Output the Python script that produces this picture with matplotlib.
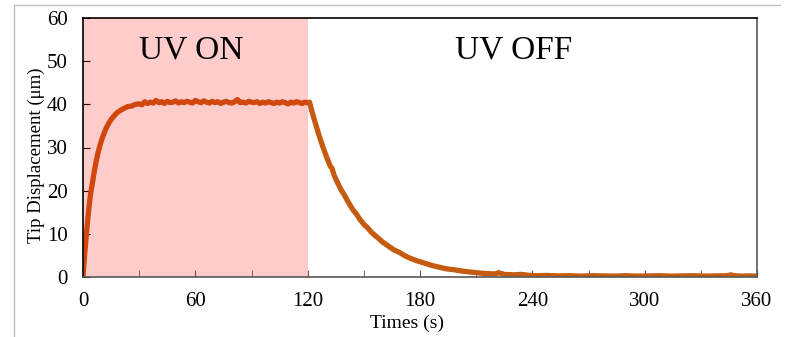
import matplotlib
matplotlib.use("Agg")
import matplotlib.pyplot as plt
from matplotlib.lines import Line2D

plt.rcParams['font.family'] = ['Liberation Serif', 'DejaVu Serif']

# UV ON (0-120 s)
t_on = [0, 0.5, 1, 1.5, 2, 2.5, 3, 3.5, 4, 5, 6, 7, 8, 9, 10, 11, 12, 13, 14, 15,
        16, 17, 18, 19, 20, 22, 24, 26, 28, 30, 31.5, 33, 34.5, 36, 37.5, 39, 40.5,
        42, 43.5, 45, 46.5, 48, 49.5, 51, 52.5, 54, 55.5, 57, 58.5, 60, 61.5, 63,
        64.5, 66, 67.5, 69, 70.5, 72, 73.5, 75, 76.5, 78, 79.5, 81, 82.5, 84, 85.5,
        87, 88.5, 90, 91.5, 93, 94.5, 96, 97.5, 99, 100.5, 102, 103.5, 105, 106.5,
        108, 109.5, 111, 112.5, 114, 115.5, 117, 118.5, 120]
y_on = [0, 3.0, 5.8, 8.4, 10.8, 13.2, 15.3, 17.3, 19.2, 21.7, 24.4, 26.7, 28.7, 30.4,
        31.8, 33.0, 34.1, 35.0, 35.8, 36.5, 37.0, 37.5, 38.0, 38.3, 38.6, 39.1, 39.5,
        39.6, 40.0, 40.1, 39.9, 40.6, 40.2, 40.5, 40.3, 40.9, 40.4, 40.6, 40.2, 40.7,
        40.4, 40.5, 40.8, 40.3, 40.6, 40.4, 40.7, 40.5, 40.3, 40.9, 40.6, 40.4, 40.8,
        40.5, 40.3, 40.7, 40.4, 40.6, 40.2, 40.5, 40.7, 40.4, 40.3, 40.6, 41.1, 40.4,
        40.5, 40.3, 40.7, 40.5, 40.4, 40.6, 40.2, 40.5, 40.3, 40.6, 40.4, 40.2, 40.5,
        40.3, 40.6, 40.4, 40.1, 40.5, 40.3, 40.6, 40.4, 40.2, 40.5, 40.4]

# UV OFF (120-360 s)
t_off = [120, 121, 122, 123, 124, 126, 128, 130, 132, 133, 134, 136, 138, 140, 142,
         144, 146, 148, 150, 152, 154, 156, 158, 160, 163, 166, 169, 172, 175, 178,
         181, 184, 187, 190, 194, 198, 202, 206, 210, 215, 220, 222, 225, 230, 234,
         238, 242, 248, 254, 260, 266, 272, 278, 284, 290, 296, 302, 308, 314, 320,
         326, 332, 338, 344, 346, 348, 352, 356, 360]
y_off = [40.4, 40.5, 38.8, 37.3, 35.8, 32.9, 30.3, 27.9, 25.7, 25.2, 23.7, 21.8, 20.1,
         18.7, 17.1, 15.7, 14.6, 13.3, 12.2, 11.4, 10.4, 9.6, 8.9, 8.1, 7.2, 6.3, 5.7,
         4.9, 4.3, 3.8, 3.4, 3.0, 2.6, 2.3, 1.9, 1.7, 1.4, 1.2, 1.0, 0.8, 0.7, 1.0, 0.6,
         0.5, 0.6, 0.4, 0.3, 0.35, 0.25, 0.3, 0.2, 0.3, 0.25, 0.2, 0.3, 0.2, 0.25, 0.3,
         0.2, 0.25, 0.3, 0.2, 0.25, 0.3, 0.5, 0.3, 0.2, 0.25, 0.2]

x_ticks = [0, 60, 120, 180, 240, 300, 360]
y_ticks = [0, 10, 20, 30, 40, 50, 60]

line_color = "#c55a11"

fig = plt.figure(figsize=(7.85, 3.37), dpi=100)
ax = fig.add_axes([83 / 785, 1 - 277 / 337, (757 - 83) / 785, (277 - 18) / 337])

ax.plot(t_on, y_on, color=line_color, linewidth=3.8, solid_capstyle='round', zorder=2)
ax.plot(t_off, y_off, color=line_color, linewidth=3.8, solid_capstyle='round', zorder=2)

# shaded UV ON region sits on top of the line (tints it red)
ax.axvspan(0, 120, color='red', alpha=0.2, linewidth=0, zorder=3)

ax.text(58, 52.5, "UV ON", fontsize=24, ha='center', va='center', zorder=4)
ax.text(230, 52.5, "UV OFF", fontsize=24, ha='center', va='center', zorder=4)

ax.set_xlim(0, 360)
ax.set_ylim(0, 60)
ax.set_xticks(x_ticks)
ax.set_xticks(range(0, 361, 30), minor=True)
ax.set_yticks(y_ticks)
ax.tick_params(axis='both', which='both', direction='in', labelsize=15)
ax.tick_params(axis='x', which='major', length=5, pad=11, color='#595959')
ax.tick_params(axis='x', which='minor', length=5, color='#595959')
ax.tick_params(axis='y', length=5, pad=11)

ax.set_xlabel("Times (s)", fontsize=14)
ax.xaxis.set_label_coords(0.48, -0.145)
ax.set_ylabel("Tip Displacement (\u03bcm)", fontsize=13.5)
ax.yaxis.set_label_coords(-0.056, 0.47)

for side in ['left', 'top']:
    ax.spines[side].set_color('black')
for side in ['right', 'bottom']:
    ax.spines[side].set_color('#595959')
for s in ax.spines.values():
    s.set_linewidth(1.2)
    s.set_zorder(5)

# light outer chart border
fig.add_artist(Line2D([14 / 785, 780 / 785], [1 - 5 / 337, 1 - 5 / 337],
                      color='#bfbfbf', linewidth=1, transform=fig.transFigure))
fig.add_artist(Line2D([14 / 785, 14 / 785], [0, 1 - 5 / 337],
                      color='#bfbfbf', linewidth=1, transform=fig.transFigure))

fig.savefig("out.png", dpi=100)
